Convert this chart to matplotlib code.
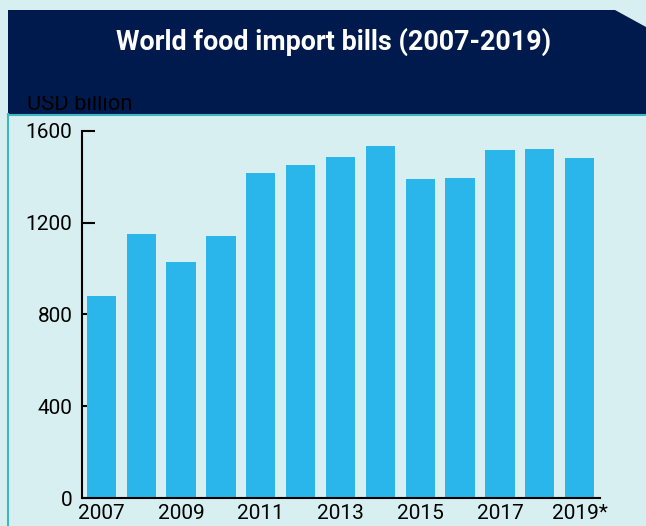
import matplotlib.pyplot as plt
from matplotlib.patches import Polygon, Rectangle
from matplotlib.lines import Line2D

# data
years = ["2007", "2008", "2009", "2010", "2011", "2012", "2013",
         "2014", "2015", "2016", "2017", "2018", "2019*"]
bills = [882, 1148, 1026, 1140, 1415, 1450, 1485,
         1533, 1389, 1393, 1515, 1520, 1480]
y_ticks = [0, 400, 800, 1200, 1600]

W, H = 646, 526
bg = "#d7eff0"
navy = "#001a4d"
teal = "#3cb9bf"
blue = "#2bb6eb"

plt.rcParams["font.family"] = ["Roboto", "DejaVu Sans"]

fig = plt.figure(figsize=(W / 100, H / 100), dpi=100, facecolor=bg)


def fx(px):
    return px / W


def fy(py):
    return 1 - py / H


# header band with the clipped top-right corner
header = Polygon([(fx(8), fy(10)), (fx(615), fy(10)), (fx(646), fy(27)),
                  (fx(646), fy(114)), (fx(8), fy(114))],
                 closed=True, transform=fig.transFigure, facecolor=navy,
                 edgecolor="none", zorder=0)
fig.patches.append(header)

# teal frame lines
fig.lines.append(Line2D([fx(8), fx(646)], [fy(114.5), fy(114.5)],
                        transform=fig.transFigure, color=teal, lw=1.5))
fig.lines.append(Line2D([fx(8), fx(8)], [fy(114), fy(526)],
                        transform=fig.transFigure, color=teal, lw=1.5))

fig.text(fx(334), fy(42), "World food import bills (2007-2019)", color="white",
         fontsize=19.4, fontweight="bold", ha="center", va="center")

unit = fig.text(fx(27), fy(110), "USD billion", color="black", fontsize=15.8,
                ha="left", va="baseline")
clip = Rectangle((fx(0), fy(114)), 1, fy(96) - fy(114),
                 transform=fig.transFigure, facecolor="none")
unit.set_clip_path(clip)

ax = fig.add_axes([fx(82), fy(498), fx(600) - fx(82), fy(130.7) - fy(498)])
ax.set_facecolor("none")

x = range(len(years))
ax.bar(x, bills, width=0.735, color=blue, zorder=2)

ax.set_xlim(-0.484, 12.51)
ax.set_ylim(0, 1600)
ax.set_yticks(y_ticks)
ax.set_yticklabels([str(v) for v in y_ticks])
ax.set_xticks(list(x)[::2])
ax.set_xticklabels(years[::2])

for side in ["top", "right"]:
    ax.spines[side].set_visible(False)
for side in ["left", "bottom"]:
    ax.spines[side].set_linewidth(1.5)
    ax.spines[side].set_color("black")

ax.tick_params(axis="y", direction="in", length=9, width=1.5,
               labelsize=15, pad=7)
ax.tick_params(axis="x", length=0, labelsize=15, pad=4)

fig.savefig("out.png", dpi=100, facecolor=bg)
